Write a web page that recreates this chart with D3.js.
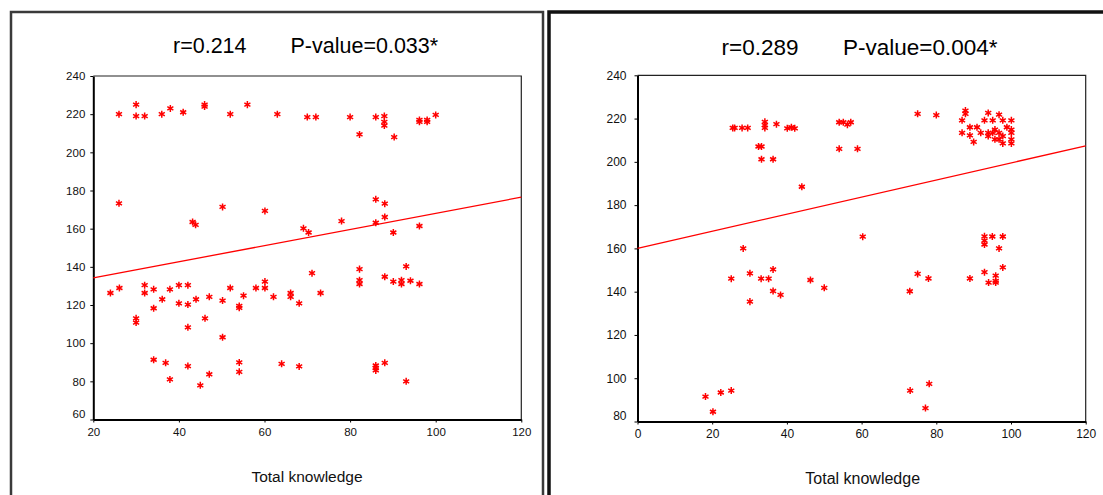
<!DOCTYPE html>
<html>
<head>
<meta charset="utf-8">
<script src="https://cdn.jsdelivr.net/npm/d3@7/dist/d3.min.js"></script>
<style>
  html, body { margin: 0; padding: 0; background: #fff; }
  svg { display: block; font-family: "Liberation Sans", Arial, sans-serif; }
</style>
</head>
<body>
<svg id="chart" width="1103" height="495"></svg>
<script>
// ---------- DATA ----------
// Panel A (left)
const titleA = ["r=0.214", "P-value=0.033*"];
const knowA = [26,30,30,32,36,38,41,46,46,52,56,63,70,72,80,86,88,88,88,82.2,90.3,96.2,96.2,98,98,100,
  26,43.2,43.9,50.2,60.1,69.1,70.3,78,86,88.1,88.1,86,90.1,96.2,
  24,26.1,30,30,32,32,34.1,34.1,36.1,37.9,40,40,42.1,42.1,42.1,44,46.1,47.1,50.2,50.2,52,54.1,54.1,55.1,58,60.1,60.1,62.1,66.1,66.1,68.1,71.1,73.1,82.2,82.2,82.2,88.1,90.1,92,92,93.1,94.1,96.2,
  34.1,36.9,37.9,42.1,45,47.1,54.1,54.1,64,68.1,86,86,86,88.1,93.1];
const scoreA = [220,225,219,219,220,223,221,225,224,220,225,220,218.5,218.5,218.5,218.5,219,216,214,209.4,208,217,216,217,216,219.6,
  173.3,163.5,162,171.4,169.3,160.2,158,164,175.4,173.1,166.1,163.1,158,161.4,
  126.3,128.9,113,110.8,130.4,126.3,128.2,118.3,123,128.2,130.4,120.9,130.4,120.2,108.3,123,113,124.3,122.3,103.1,128.9,119.5,118.5,124.9,128.9,132.3,128.9,124.3,126.3,124.3,120.9,136.7,126.3,138.8,133,131,134.8,132.3,133,131,140.2,132.7,131,
  91.3,89.7,81,88,77.9,83.7,89.9,85,89.2,87.8,88.3,87,85.7,89.7,80];
const fitA = [125.74, 0.423];            // intercept, slope
const xTicksA = [20, 40, 60, 80, 100, 120];
const yTicksA = [60, 80, 100, 120, 140, 160, 180, 200, 220, 240];

// Panel B (right)
const titleB = ["r=0.289", "P-value=0.004*"];
const knowB = [25.5,26,28,29.5,32.4,33.2,33.2,36.3,34.1,34.1,34.1,37.2,40.1,41.2,42.1,44,54,55.1,56.2,57.1,54,58.9,60.3,
  75,80,87.8,87.8,86.9,86.9,89,89,90.9,90,91.9,92.9,93.9,93.9,93.9,95.1,95.7,95.1,95.7,96.8,97.8,96.8,96.8,97.8,97.8,98.9,100.1,100.1,100.1,100.1,100.1,
  28.3,25.1,30.1,30.1,33.1,35.1,36.3,36.3,38.3,46.3,50,72.9,75,77.9,89,92.9,92.9,92.9,92.9,94,95,95.9,95.9,95.9,96.8,97.8,97.8,
  18.2,20.2,22.3,25.1,73,78.1,77.1];
const scoreB = [215.7,215.7,215.7,215.7,207.1,207.1,201.2,201.2,218.5,217,215.7,217.4,215.5,216,215.5,188.5,218.3,218.3,217.2,218.3,206,206,165.4,
  222.2,221.6,223.7,222.2,219.2,213.4,216,212.2,216,209.2,213.4,219.2,222.6,213.4,211.9,219.2,214.9,213.4,210.4,221.8,219.2,213.4,210.4,211.9,208.5,216,219.2,214.9,213.4,210.4,208.5,
  160,146,148.5,135.4,146,146,150.3,140.3,138.5,145.4,141.8,140.2,148.2,146.1,146.1,165.6,163.6,161.8,149,144.2,165.5,147.4,145,144.2,160,165.5,151.2,
  91.5,84.5,93.4,94.3,94.3,97.4,86.2];
const fitB = [160, 0.395];
const xTicksB = [0, 20, 40, 60, 80, 100, 120];
const yTicksB = [80, 100, 120, 140, 160, 180, 200, 220, 240];

const axisTitle = "Total knowledge";

// ---------- DRAW ----------
const svg = d3.select("#chart");
svg.append("rect").attr("width", 1103).attr("height", 495).attr("fill", "#fff");

// panel borders
svg.append("path").attr("d", "M11,500 V12 H543 V500").attr("fill", "none")
  .attr("stroke", "#3a3a3a").attr("stroke-width", 2.5);
svg.append("path").attr("d", "M549,500 V12 H1110").attr("fill", "none")
  .attr("stroke", "#111").attr("stroke-width", 3.5);

function panel(cfg) {
  const x = d3.scaleLinear().domain(cfg.xDomain).range(cfg.xRange);
  const y = d3.scaleLinear().domain(cfg.yDomain).range(cfg.yRange);
  const g = svg.append("g");
  const [x0, x1] = cfg.xRange, [y0, y1] = cfg.yRange;

  // frame top/right (thin)
  g.append("path").attr("d", `M${x0},${y1} H${x1} V${y0}`).attr("fill", "none")
    .attr("stroke", "#222").attr("stroke-width", 1.2);

  // axes
  const ax = g.append("g").attr("transform", `translate(0,${y0})`)
    .call(d3.axisBottom(x).tickValues(cfg.xTicks).tickSize(3).tickSizeOuter(0).tickPadding(5));
  const ay = g.append("g").attr("transform", `translate(${x0},0)`)
    .call(d3.axisLeft(y).tickValues(cfg.yTicks).tickSize(3).tickSizeOuter(0).tickPadding(cfg.yPad));
  [ax, ay].forEach(a => {
    a.select(".domain").attr("stroke", "#000").attr("stroke-width", 2);
    a.selectAll(".tick line").attr("stroke", "#000").attr("stroke-width", 1);
    a.selectAll(".tick text").attr("fill", "#111").style("font-size", cfg.tickFont + "px")
      .style("font-family", '"Liberation Sans", Arial, sans-serif');
  });
  // bottom y label nudged upward as in reference
  ay.selectAll(".tick").filter(d => d === cfg.yDomain[0]).select("text").attr("dy", "-0.2em");

  // regression line
  const line = d3.line().x(d => x(d)).y(d => y(cfg.fit[0] + cfg.fit[1] * d));
  g.append("path").datum(cfg.xDomain).attr("d", line).attr("fill", "none")
    .attr("stroke", "#ff0000").attr("stroke-width", 1.3);

  // points (asterisks)
  const sym = d3.symbol().type(d3.symbolAsterisk).size(34);
  const pts = cfg.xs.map((v, i) => [v, cfg.ys[i]]);
  g.selectAll("path.pt").data(pts).join("path").attr("class", "pt")
    .attr("transform", d => `translate(${x(d[0])},${y(d[1])})`)
    .attr("d", sym).attr("fill", "none").attr("stroke", "#ff0000").attr("stroke-width", 1.5);

  // title
  const t = g.append("text").attr("y", cfg.titleY).style("font-size", cfg.titleFont + "px").attr("fill", "#000");
  t.append("tspan").attr("x", cfg.titleX[0]).text(cfg.title[0]);
  t.append("tspan").attr("x", cfg.titleX[1]).text(cfg.title[1]);

  // axis title
  g.append("text").attr("x", cfg.axisTitleX).attr("y", cfg.axisTitleY).attr("text-anchor", "middle")
    .style("font-size", cfg.axisFont + "px").attr("fill", "#111").text(axisTitle);
}

panel({
  xs: knowA, ys: scoreA, fit: fitA, title: titleA,
  xDomain: [20, 120], xRange: [93.3, 521.3],
  yDomain: [60, 240], yRange: [419.5, 76],
  xTicks: xTicksA, yTicks: yTicksA, yPad: 5, tickFont: 11.5,
  titleX: [173, 290.5], titleY: 53, titleFont: 21.5,
  axisTitleX: 307, axisTitleY: 482, axisFont: 15.5
});
panel({
  xs: knowB, ys: scoreB, fit: fitB, title: titleB,
  xDomain: [0, 120], xRange: [637.5, 1085.7],
  yDomain: [80, 240], yRange: [421.5, 75.3],
  xTicks: xTicksB, yTicks: yTicksB, yPad: 8, tickFont: 12,
  titleX: [721.5, 843], titleY: 55, titleFont: 22.5,
  axisTitleX: 862.7, axisTitleY: 484, axisFont: 16
});
</script>
</body>
</html>
